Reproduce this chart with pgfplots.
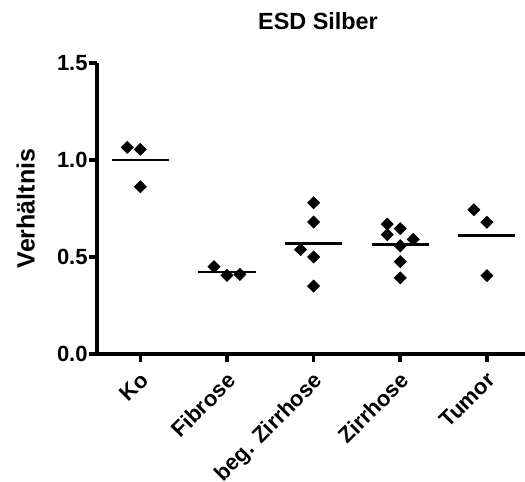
\documentclass[border=0pt]{standalone}
\usepackage{fontspec}
\setmainfont{Liberation Sans}
\usepackage{pgfplots}
\pgfplotsset{compat=1.18}

\pgfplotstableread{
x      y
-0.15  1.065
0      1.055
0      0.862
0.85   0.450
1      0.405
1.15   0.410
2      0.780
2      0.680
1.85   0.538
2      0.500
2      0.350
2.85   0.670
3      0.646
2.85   0.615
3.15   0.591
3      0.558
3      0.476
3      0.393
3.85   0.744
4      0.679
4      0.404
}\points

\begin{document}
\begin{tikzpicture}
  \useasboundingbox (-48.5pt,-64pt) rectangle (214pt,177pt);
  \begin{axis}[
    at={(0,0)}, anchor=south west,
    scale only axis,
    width=214pt, height=145.5pt,
    xmin=-0.5, xmax=4.44,
    ymin=0, ymax=1.5,
    axis lines*=left,
    axis line style={line width=1.8pt},
    tick style={line width=1.8pt, black},
    tick align=outside,
    major tick length=4pt,
    xtick={0,1,2,3,4},
    xticklabels={Ko,Fibrose,beg. Zirrhose,Zirrhose,Tumor},
    ytick={0,0.5,1,1.5},
    yticklabel style={/pgf/number format/fixed, /pgf/number format/fixed zerofill,
      /pgf/number format/precision=1, /pgf/number format/assume math mode=true,
      inner sep=0.5pt},
    tick label style={font=\fontsize{11}{12}\selectfont\bfseries},
    xticklabel style={rotate=45, anchor=north east, inner sep=1pt, yshift=-1.5pt, xshift=-2.5pt},
    ylabel={Verhältnis},
    ylabel style={font=\fontsize{12.5}{14}\selectfont\bfseries, yshift=7pt},
    title={ESD Silber},
    title style={font=\fontsize{11.7}{13}\selectfont\bfseries, yshift=7pt, xshift=3.5pt},
    clip=false,
  ]
    \addplot[only marks, mark=square*, mark size=2.1pt, mark options={rotate=45, fill=black, draw=black}]
      table[x=x, y=y] {\points};
    % group means
    \addplot[line width=1.3pt, black] coordinates {(-0.33,1.0) (0.33,1.0)};
    \addplot[line width=1.3pt, black] coordinates {(0.67,0.423) (1.33,0.423)};
    \addplot[line width=1.3pt, black] coordinates {(1.67,0.570) (2.33,0.570)};
    \addplot[line width=1.3pt, black] coordinates {(2.67,0.563) (3.33,0.563)};
    \addplot[line width=1.3pt, black] coordinates {(3.67,0.610) (4.33,0.610)};
  \end{axis}
\end{tikzpicture}
\end{document}
